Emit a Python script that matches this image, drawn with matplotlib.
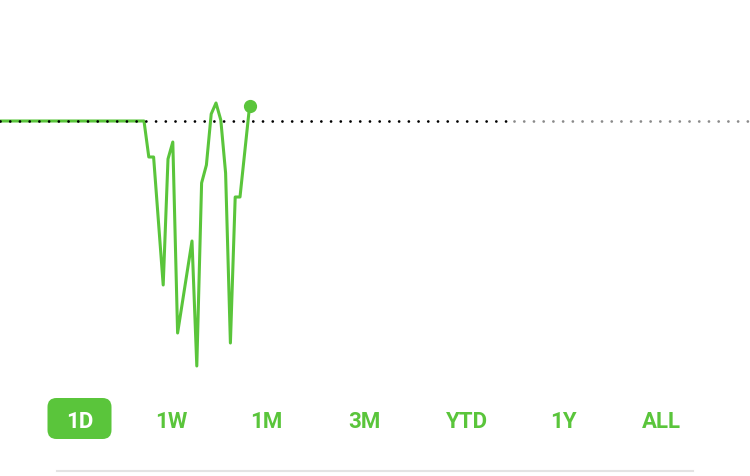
import matplotlib
matplotlib.use("Agg")
import matplotlib.pyplot as plt
from matplotlib.patches import FancyBboxPatch

# intraday prices (time index, price)
times = [0, 30, 31, 32, 34, 35, 36, 37, 40, 41, 42, 43, 44, 45, 46, 47, 48, 49, 50, 52]
prices = [4.200, 4.200, 4.128, 4.128, 3.872, 4.124, 4.158, 3.776, 3.960, 3.710,
          4.076, 4.112, 4.214, 4.236, 4.202, 4.096, 3.756, 4.048, 4.048, 4.230]
prev_close = 4.200
market_close = 106
day_end = 156

ranges = ["1D", "1W", "1M", "3M", "YTD", "1Y", "ALL"]
range_x = [79.5, 171, 266, 364, 467.5, 563, 661]  # pixel centres
selected = "1D"

green = "#5ac53b"
W, H = 750, 476

fig = plt.figure(figsize=(W / 100, H / 100), dpi=100)
ax = fig.add_axes([0, 0, 1, 1])
ax.set_xlim(0, W / 4.8)
ax.set_ylim(prev_close - (H - 121) * 0.002, prev_close + 121 * 0.002)
ax.axis("off")

# previous close dotted line
dots = dict(lw=2.0, linestyle=(0, (0.01, 3.49)), dash_capstyle="round", zorder=3)
ax.plot([0, market_close], [prev_close, prev_close], color="black", **dots)
ax.plot([market_close + 1.0, day_end], [prev_close, prev_close], color="#8a8a8a", **dots)

ax.plot(times, prices, color=green, lw=2.2, solid_joinstyle="round", zorder=2)
ax.plot(times[-1], prices[-1], "o", color=green, ms=8.5, zorder=4)

# range selector, drawn in pixel coordinates
ui = fig.add_axes([0, 0, 1, 1], facecolor="none")
ui.set_xlim(0, W)
ui.set_ylim(H, 0)
ui.axis("off")

for lab, x in zip(ranges, range_x):
    c = green
    if lab == selected:
        ui.add_patch(FancyBboxPatch((x - 32, 398), 64, 41,
                                    boxstyle="round,pad=0,rounding_size=9",
                                    fc=green, ec="none"))
        c = "white"
    ui.text(x, 428.5, lab, ha="center", va="baseline", color=c,
            fontsize=16, fontweight="bold", family=["Roboto", "DejaVu Sans"])

ui.plot([57, 693], [471, 471], color="#e3e3e3", lw=1.5)

fig.savefig("out.png", dpi=100)
